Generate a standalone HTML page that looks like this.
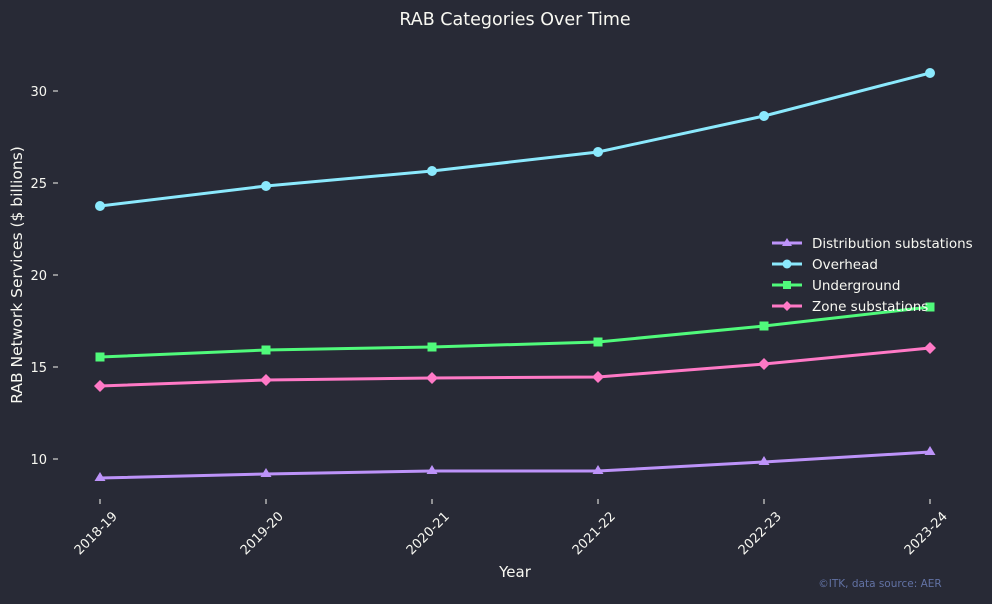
<!DOCTYPE html>
<html><head><style>body{margin:0;background:#282a36}</style></head><body>
<svg width="992" height="599" xmlns="http://www.w3.org/2000/svg" font-family="DejaVu Sans, sans-serif">
<rect width="992" height="599" fill="#282a36"/>
<text x="515" y="25" fill="#f8f8f2" font-size="17.5" text-anchor="middle">RAB Categories Over Time</text>
<g fill="#f8f8f2" font-size="13" text-anchor="end">
<text x="47" y="96">30</text><text x="47" y="188">25</text><text x="47" y="280">20</text><text x="47" y="372">15</text><text x="47" y="464">10</text>
</g>
<g stroke="#f8f8f2" stroke-width="1">
<line x1="53" y1="91" x2="58" y2="91"/><line x1="53" y1="183" x2="58" y2="183"/><line x1="53" y1="275" x2="58" y2="275"/><line x1="53" y1="367" x2="58" y2="367"/><line x1="53" y1="459" x2="58" y2="459"/>
<line x1="100" y1="499" x2="100" y2="504"/><line x1="266" y1="499" x2="266" y2="504"/><line x1="432" y1="499" x2="432" y2="504"/><line x1="598" y1="499" x2="598" y2="504"/><line x1="764" y1="499" x2="764" y2="504"/><line x1="930" y1="499" x2="930" y2="504"/>
</g>
<g fill="#f8f8f2" font-size="13" text-anchor="end">
<text transform="translate(118,517) rotate(-45)">2018-19</text>
<text transform="translate(284,517) rotate(-45)">2019-20</text>
<text transform="translate(450,517) rotate(-45)">2020-21</text>
<text transform="translate(616,517) rotate(-45)">2021-22</text>
<text transform="translate(782,517) rotate(-45)">2022-23</text>
<text transform="translate(948,517) rotate(-45)">2023-24</text>
</g>
<text x="515" y="577" fill="#f8f8f2" font-size="15" text-anchor="middle">Year</text>
<text transform="translate(22,275) rotate(-90)" fill="#f8f8f2" font-size="15.5" text-anchor="middle">RAB Network Services ($ billions)</text>
<text x="880" y="587" fill="#6272a4" font-size="10.5" text-anchor="middle">©ITK, data source: AER</text>
<g fill="none" stroke-width="3">
<polyline stroke="#8be9fd" points="100,206 266,186 432,171 598,152 764,116 930,73"/>
<polyline stroke="#50fa7b" points="100,357 266,350 432,347 598,342 764,326 930,307"/>
<polyline stroke="#ff79c6" points="100,386 266,380 432,378 598,377 764,364 930,348"/>
<polyline stroke="#bd93f9" points="100,478 266,474 432,471 598,471 764,462 930,452"/>
</g>
<g fill="#8be9fd"><circle cx="100" cy="206" r="5"/><circle cx="266" cy="186" r="5"/><circle cx="432" cy="171" r="5"/><circle cx="598" cy="152" r="5"/><circle cx="764" cy="116" r="5"/><circle cx="930" cy="73" r="5"/></g>
<g fill="#50fa7b"><rect x="95.5" y="352.5" width="9" height="9"/><rect x="261.5" y="345.5" width="9" height="9"/><rect x="427.5" y="342.5" width="9" height="9"/><rect x="593.5" y="337.5" width="9" height="9"/><rect x="759.5" y="321.5" width="9" height="9"/><rect x="925.5" y="302.5" width="9" height="9"/></g>
<g fill="#ff79c6"><path d="M100 380l6 6-6 6-6-6z"/><path d="M266 374l6 6-6 6-6-6z"/><path d="M432 372l6 6-6 6-6-6z"/><path d="M598 371l6 6-6 6-6-6z"/><path d="M764 358l6 6-6 6-6-6z"/><path d="M930 342l6 6-6 6-6-6z"/></g>
<g fill="#bd93f9"><path d="M100 472l5.5 9h-11z"/><path d="M266 468l5.5 9h-11z"/><path d="M432 465l5.5 9h-11z"/><path d="M598 465l5.5 9h-11z"/><path d="M764 456l5.5 9h-11z"/><path d="M930 446l5.5 9h-11z"/></g>
<g stroke-width="3">
<line x1="772" y1="243" x2="802" y2="243" stroke="#bd93f9"/><path d="M787 238l5 8h-10z" fill="#bd93f9"/>
<line x1="772" y1="264" x2="802" y2="264" stroke="#8be9fd"/><circle cx="787" cy="264" r="4.5" fill="#8be9fd"/>
<line x1="772" y1="285" x2="802" y2="285" stroke="#50fa7b"/><rect x="783" y="281" width="8" height="8" fill="#50fa7b"/>
<line x1="772" y1="306" x2="802" y2="306" stroke="#ff79c6"/><path d="M787 301l5 5-5 5-5-5z" fill="#ff79c6"/>
</g>
<g fill="#f8f8f2" font-size="13.5">
<text x="812" y="248">Distribution substations</text><text x="812" y="269">Overhead</text><text x="812" y="290">Underground</text><text x="812" y="311">Zone substations</text>
</g>
</svg>
</body></html>
